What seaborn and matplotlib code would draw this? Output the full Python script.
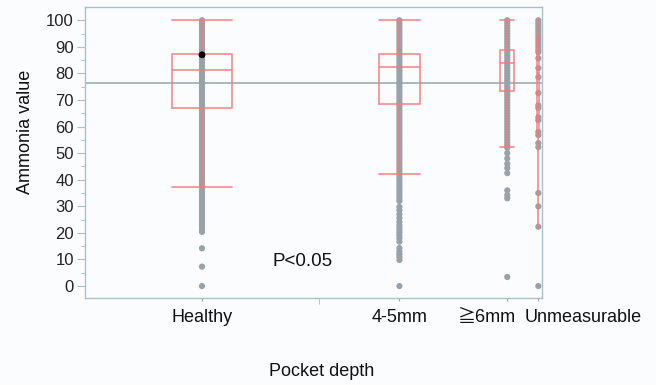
import numpy as np
import pandas as pd
import matplotlib

matplotlib.use('Agg')

import matplotlib.pyplot as plt
import matplotlib.transforms as mtransforms
import seaborn as sns

sns.set_style("white")
plt.rcParams['font.family'] = ['Liberation Sans', 'Noto Sans CJK JP', 'DejaVu Sans']

# --- data ---
groups = ["Healthy", "4-5mm", "\u2267" + "6mm", "Unmeasurable"]
# JMP draws each group with a width proportional to its size
group_n = [640, 440, 150, 20]

# box summary per group (Q1, median, Q3, whiskers)
q1 = [66.9, 68.4, 73.5, 57.0]
medians = [81.2, 82.3, 84.0, 80.0]
q3 = [87.2, 87.2, 88.7, 94.0]
whisker_low = [37.2, 42.1, 52.4, 22.3]
whisker_high = [100, 100, 100, 100]

grand_mean = 76.3
highlight_value = 87.0  # the black (selected) point in Healthy

healthy_values = [100, 99, 98, 97, 96, 95, 94, 93, 92, 91, 90, 89, 88, 87, 86,
                  85, 84, 83, 82, 81, 80, 79, 78, 77, 76, 75, 74, 73, 72, 71,
                  70, 69, 68, 67, 66, 65, 64, 63, 62, 61, 60, 59, 58, 57, 56,
                  55, 54, 53, 52, 51, 50, 49, 48, 47, 46, 45, 44, 43, 42, 41,
                  40, 39, 38, 37, 36, 35, 34, 33, 32, 31, 30, 29, 28, 27, 26,
                  25, 24, 23, 22, 21, 20.4, 14.2, 7.3, 0]
mm45_values = [100, 99, 98, 97, 96, 95, 94, 93, 92, 91, 90, 89, 88, 87, 86,
               85, 84, 83, 82, 81, 80, 79, 78, 77, 76, 75, 74, 73, 72, 71,
               70, 69, 68, 67, 66, 65, 64, 63, 62, 61, 60, 59, 58, 57, 56,
               55, 54, 53, 52, 51, 50, 49, 48, 47, 46, 45, 44, 43, 42, 41,
               40, 39, 38, 37, 36, 35, 34, 33, 32, 29.8, 28.5, 27, 25.6, 24.2,
               23, 22, 21, 20, 19, 18, 16.7, 14.3, 13, 12, 11, 9.8, 0]
mm6_values = [100, 99, 98, 97, 96, 95, 94, 93, 92, 91, 90, 89, 88, 87, 86,
              85, 84, 83, 82, 81, 80, 79, 78, 77, 76, 75, 74, 73, 72, 71,
              70, 69, 68, 67, 66, 65, 64, 63, 62, 61, 60, 59, 58, 57, 56,
              55, 54, 53, 52, 50, 48, 46, 44.4, 42.5, 36, 34.2, 33, 3.4]
unmeas_values = [100, 99, 98, 97, 96, 95, 94, 93, 92, 91, 90, 89, 88, 85.7,
                 82, 78.6, 72.6, 68, 67, 63.5, 62.4, 58, 56.8, 53.8, 52.3, 35,
                 30, 22.3, 0]
all_values = [healthy_values, mm45_values, mm6_values, unmeas_values]

# group centres on a numeric axis
edges = np.concatenate([[0], np.cumsum(group_n)])
centers = (edges[:-1] + edges[1:]) / 2
box_widths = 0.26 * np.array(group_n)

rows = []
for g, c, vals in zip(groups, centers, all_values):
    for v in vals:
        rows.append({"group": g, "pos": c, "value": v})
df = pd.DataFrame(rows)

bg = "#fbfcfe"
red = "#f27b7b"
spine_col = "#a6c0cc"

fig = plt.figure(figsize=(6.56, 3.85), dpi=100, facecolor=bg)
ax = fig.add_axes([85 / 656, 1 - 298 / 385, 457 / 656, 291 / 385], facecolor=bg)

sns.scatterplot(data=df, x="pos", y="value", color="#99a2a8", s=20,
                edgecolor="none", ax=ax, zorder=2, legend=False)

stats = []
for i, g in enumerate(groups):
    stats.append({"label": g, "q1": q1[i], "med": medians[i], "q3": q3[i],
                  "whislo": whisker_low[i], "whishi": whisker_high[i],
                  "fliers": []})
line_kw = dict(color=red, linewidth=1.3, alpha=0.8, zorder=5)
ax.bxp(stats, positions=centers, widths=box_widths, showfliers=False,
       manage_ticks=False, boxprops=line_kw, medianprops=line_kw,
       whiskerprops=line_kw, capprops=line_kw, capwidths=box_widths)

ax.axhline(grand_mean, color="#8fa7b3", linewidth=1.1, zorder=1)
sns.scatterplot(x=[centers[0]], y=[highlight_value], color="black", s=24,
                edgecolor="none", ax=ax, zorder=6, legend=False)

ax.set_xlim(edges[0], edges[-1])
ax.set_ylim(-4.5, 105)
ax.set_yticks(np.arange(0, 101, 10))
ax.set_yticks(np.arange(0, 101, 5), minor=True)
ax.set_xticks(centers)
ax.set_xticklabels(groups)
ax.set_xticks(edges[1:2], minor=True)
ax.tick_params(axis="y", which="major", length=6, color=spine_col, labelsize=12,
               labelcolor="#222222", pad=2, left=True)
ax.tick_params(axis="y", which="minor", length=3, color=spine_col, left=True)
ax.tick_params(axis="x", which="major", length=2, color="#9aa3a8",
               labelsize=13, labelcolor="#111111", pad=6, bottom=True)
ax.tick_params(axis="x", which="minor", length=4, color=spine_col, bottom=True)
ax.set_xlabel("")
ax.set_ylabel("")
for sp in ax.spines.values():
    sp.set_color(spine_col)
    sp.set_linewidth(1.0)

# JMP nudges the crowded labels apart
labels = ax.get_xticklabels()
shifts = [0, 0, -20, 45]
for lab, dx in zip(labels, shifts):
    lab.set_transform(lab.get_transform() +
                      mtransforms.ScaledTranslation(dx / 100, 0, fig.dpi_scale_trans))

ax.text((273 - 85) / 457, (298 - 262) / 291, "P<0.05", transform=ax.transAxes,
        fontsize=13.5, va="center", ha="left", color="#111111")
fig.text(26 / 656, 1 - 132 / 385, "Ammonia value", rotation=90, fontsize=13,
         ha="center", va="center", color="#111111")
fig.text(322 / 656, 1 - 372 / 385, "Pocket depth", fontsize=13,
         ha="center", va="center", color="#111111")

fig.savefig("out.png", dpi=100, facecolor=bg)
